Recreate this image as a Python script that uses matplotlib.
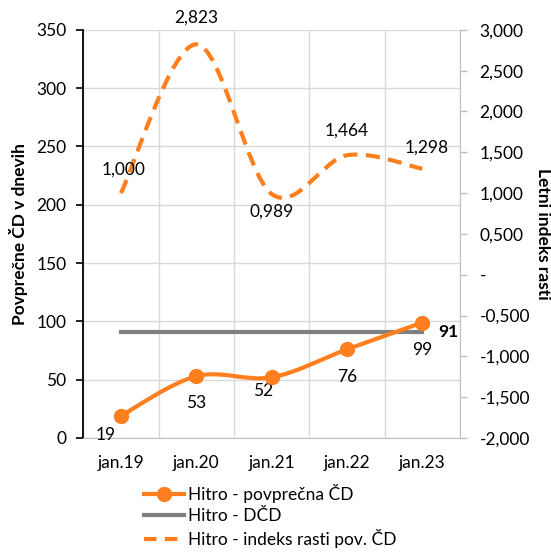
import matplotlib.pyplot as plt
import numpy as np
from matplotlib.path import Path
from matplotlib.patches import PathPatch
from matplotlib.lines import Line2D
from matplotlib.ticker import FuncFormatter

plt.rcParams['font.family'] = ['Lato', 'DejaVu Sans']

months = ["jan.19", "jan.20", "jan.21", "jan.22", "jan.23"]
avg_days = [19, 53, 52, 76, 99]           # Hitro - povprečna ČD
dcd_days = [91, 91, 91, 91, 91]           # Hitro - DČD
growth_index = [1.000, 2.823, 0.989, 1.464, 1.298]   # letni indeks rasti

ORANGE = "#FF7F1E"
GRAY = "#808080"
GRID = "#D9D9D9"
FS = 12.5
DASH = (0, (3.4, 2))


def smooth_path(x, y):
    """Bezier path through the points, like a smoothed office-style line."""
    pts = np.column_stack([x, y]).astype(float)
    n = len(pts)
    verts = [pts[0]]
    codes = [Path.MOVETO]
    for i in range(n - 1):
        p0 = pts[max(i - 1, 0)]
        p1 = pts[i]
        p2 = pts[i + 1]
        p3 = pts[min(i + 2, n - 1)]
        c1 = p1 + (p2 - p0) / 6
        c2 = p2 - (p3 - p1) / 6
        verts += [c1, c2, p2]
        codes += [Path.CURVE4] * 3
    return Path(verts, codes)


def comma_fmt(v, _):
    if abs(v) < 1e-9:
        return "-"
    return f"{v:,.3f}".replace(".", ",")


fig, ax = plt.subplots(figsize=(5.51, 5.53), dpi=100)
fig.subplots_adjust(left=0.151, right=0.835, top=0.946, bottom=0.208)
ax2 = ax.twinx()
ax.set_zorder(ax2.get_zorder() + 1)
ax.patch.set_visible(False)

x = np.arange(len(months))

ax.set_xlim(-0.5, len(months) - 0.5)
ax.set_ylim(0, 350)
ax.set_yticks(np.arange(0, 351, 50))
ax2.set_ylim(-2, 3)
ax2.set_yticks(np.arange(-2, 3.01, 0.5))
ax2.yaxis.set_major_formatter(FuncFormatter(comma_fmt))

# growth index, scaled by the right axis but drawn above the grid
ax.add_patch(PathPatch(smooth_path(x, growth_index), fill=False, edgecolor=ORANGE,
                       lw=3, linestyle=DASH, transform=ax2.transData, zorder=3))

# average days and DČD on the left axis
ax.add_patch(PathPatch(smooth_path(x, avg_days), fill=False, edgecolor=ORANGE,
                       lw=3, capstyle="round", zorder=3))
ax.plot(x, avg_days, "o", color=ORANGE, ms=10, zorder=4)
ax.plot(x, dcd_days, color=GRAY, lw=3, zorder=2)

ax.set_xticks(x)
ax.set_xticklabels(months)
ax.set_xticks(np.arange(-0.5, len(months)), minor=True)
ax.grid(True, which="minor", axis="x", color=GRID, lw=1, zorder=0)
ax.grid(True, which="major", axis="y", color=GRID, lw=1, zorder=0)
ax.set_axisbelow(True)
ax.tick_params(axis="x", which="both", length=0, pad=12, labelsize=FS)
ax.tick_params(axis="y", length=5, width=1.2, labelsize=FS, color="black", pad=7)
ax2.tick_params(axis="y", length=5, width=1, labelsize=FS, color="#BFBFBF", pad=9)

ax.spines["top"].set_visible(False)
ax2.spines["top"].set_visible(False)
ax.spines["right"].set_visible(False)
ax2.spines["left"].set_visible(False)
ax2.spines["bottom"].set_visible(False)
ax.spines["left"].set_color("black")
ax.spines["left"].set_linewidth(1.3)
ax.spines["bottom"].set_color("#BFBFBF")
ax2.spines["right"].set_color("#BFBFBF")

ax.set_ylabel("Povprečne ČD v dnevih", fontsize=FS, fontweight="bold", labelpad=6)
ax2.set_ylabel("Letni indeks rasti", fontsize=FS, fontweight="bold",
               rotation=-90, labelpad=15)

# data labels (offsets in points)
avg_offsets = [(-11, -14), (0, -19), (-6, -10), (0, -20), (0, -20)]
for xi, v, (dx, dy) in zip(x, avg_days, avg_offsets):
    ax.annotate(str(v), (xi, v), xytext=(dx, dy), textcoords="offset points",
                ha="center", va="center", fontsize=FS)
ax.annotate(str(dcd_days[-1]), (x[-1], dcd_days[-1]), xytext=(19, 0),
            textcoords="offset points", ha="center", va="center",
            fontsize=FS, fontweight="bold")

idx_offsets = [(2, 17), (0, 19), (0, -13), (0, 18), (3, 15)]
for xi, v, (dx, dy) in zip(x, growth_index, idx_offsets):
    ax.annotate(f"{v:.3f}".replace(".", ","), (xi, v), xycoords=ax2.transData,
                xytext=(dx, dy), textcoords="offset points",
                ha="center", va="center", fontsize=FS)

handles = [
    Line2D([], [], color=ORANGE, lw=3, marker="o", ms=10),
    Line2D([], [], color=GRAY, lw=3),
    Line2D([], [], color=ORANGE, lw=3, linestyle=(0, (3, 2))),
]
labels = ["Hitro - povprečna ČD", "Hitro - DČD", "Hitro - indeks rasti pov. ČD"]
fig.legend(handles, labels, loc="upper center", bbox_to_anchor=(0.49, 0.138),
           frameon=False, fontsize=FS, handlelength=2.3, handletextpad=0.25,
           labelspacing=0.3, borderaxespad=0)

fig.savefig("out.png", dpi=100)
